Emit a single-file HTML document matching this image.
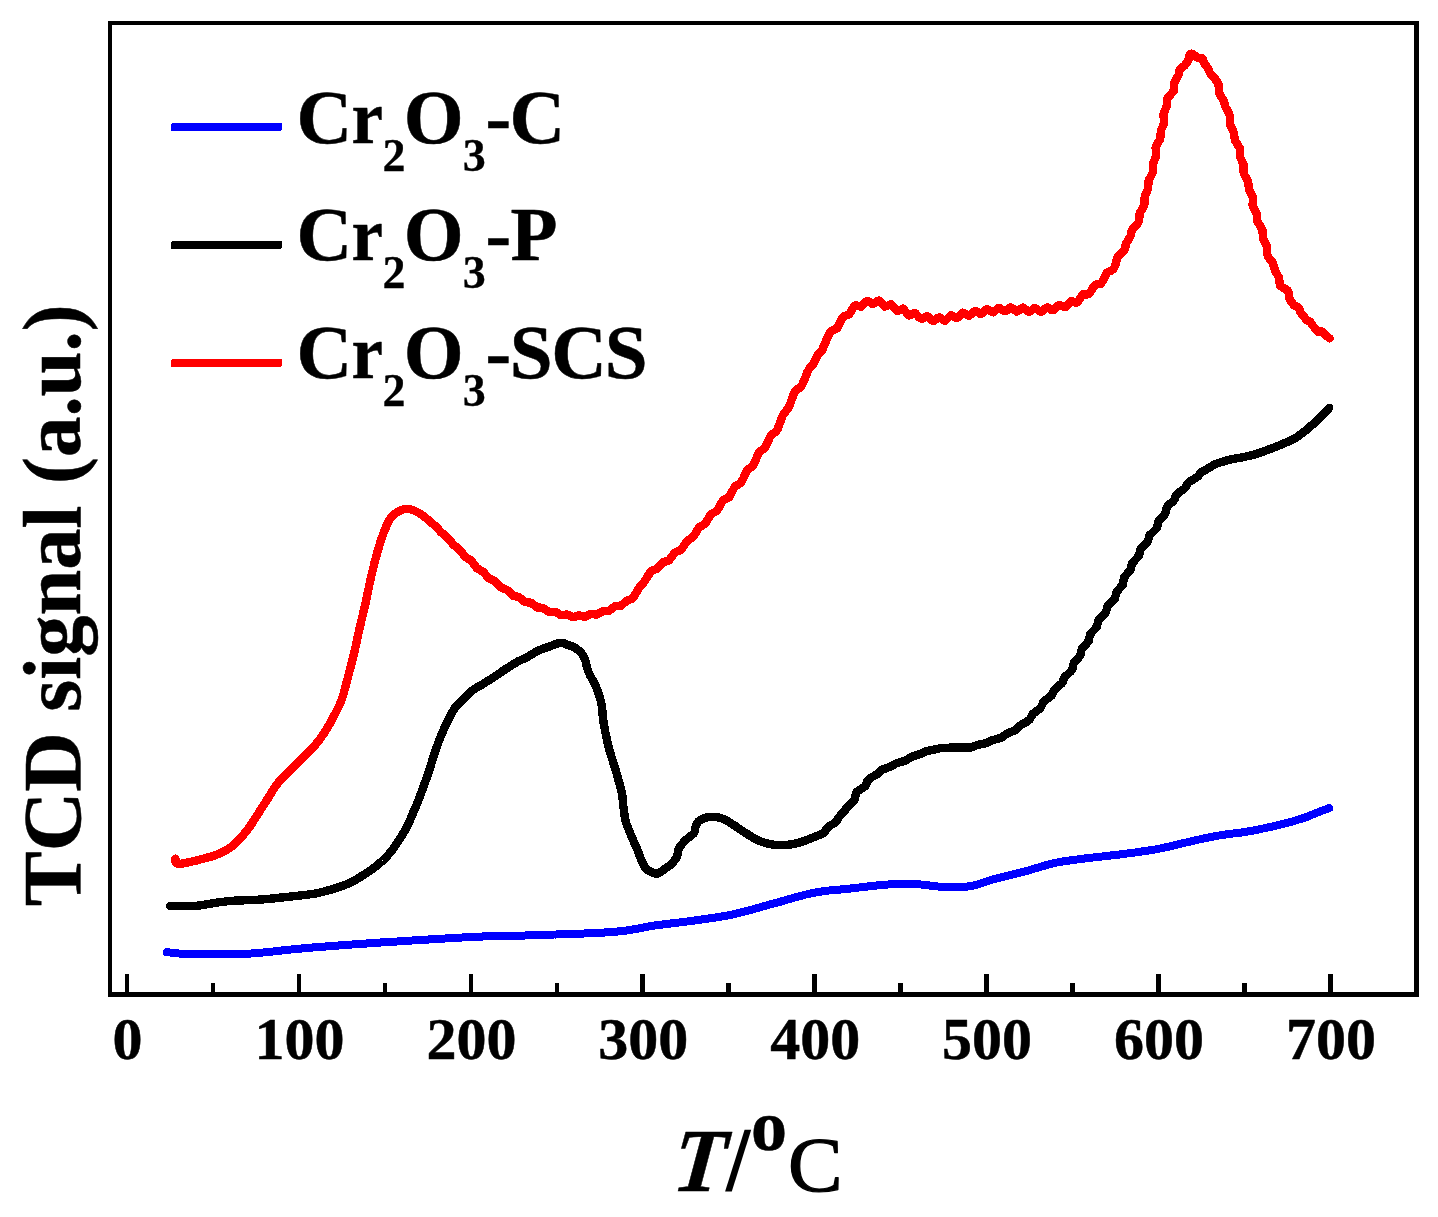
<!DOCTYPE html>
<html lang="en">
<head>
<meta charset="utf-8">
<title>TCD signal vs T - Cr2O3 catalysts</title>
<style>
  html, body { margin: 0; padding: 0; background: #ffffff; }
  body { width: 1438px; height: 1217px; overflow: hidden; }
  svg { display: block; font-family: "Liberation Serif", serif; }
  text { stroke: #000000; stroke-width: 0.5px; stroke-linejoin: round; }
  .curve { fill: none; stroke-width: 8; stroke-linecap: round; stroke-linejoin: round; }
</style>
</head>
<body>
<svg width="1438" height="1217" viewBox="0 0 1438 1217">
  <defs><filter id="gray" x="-20%" y="-20%" width="140%" height="140%" color-interpolation-filters="sRGB"><feColorMatrix type="saturate" values="0"/></filter></defs>
  <rect x="0" y="0" width="1438" height="1217" fill="#ffffff"/>

  <!-- data curves -->
  <polyline class="curve" shape-rendering="crispEdges" stroke="#0000ff" points="166.8,952.2 167.9,952.3 169.5,952.5 171.3,952.6 173.2,952.8 175.0,953.0 176.2,953.1 177.2,953.3 178.2,953.4 179.5,953.6 181.4,953.7 184.0,953.8 185.0,953.8 186.1,953.8 187.3,953.9 188.6,953.9 189.9,953.9 191.3,953.9 192.7,953.9 194.2,954.0 195.7,954.0 197.3,954.0 198.9,954.0 200.6,954.0 202.2,954.0 203.9,954.0 205.7,954.0 207.4,954.0 209.1,954.0 210.9,954.0 212.6,954.0 214.0,954.0 215.4,954.0 216.8,954.0 218.2,954.0 219.6,954.0 221.0,954.1 222.5,954.1 223.9,954.1 225.4,954.1 226.9,954.1 228.4,954.1 230.0,954.1 231.5,954.1 233.1,954.1 234.7,954.1 236.3,954.1 237.9,954.1 239.6,954.0 241.2,954.0 242.9,953.9 244.7,953.9 246.4,953.8 248.2,953.7 250.0,953.6 251.3,953.5 252.7,953.4 254.1,953.3 255.5,953.2 256.9,953.1 258.4,953.0 259.9,952.8 261.4,952.7 262.9,952.5 264.4,952.4 265.9,952.2 267.5,952.1 269.0,951.9 270.6,951.7 272.2,951.6 273.7,951.4 275.3,951.2 276.9,951.0 278.5,950.9 280.1,950.7 281.7,950.5 283.2,950.3 284.8,950.2 286.4,950.0 287.9,949.8 289.5,949.6 291.0,949.5 292.6,949.3 294.1,949.2 295.6,949.0 297.1,948.9 298.6,948.7 300.0,948.6 301.6,948.5 303.1,948.3 304.7,948.2 306.3,948.0 307.8,947.9 309.3,947.8 310.8,947.7 312.4,947.5 313.9,947.4 315.4,947.3 316.9,947.2 318.4,947.0 319.8,946.9 321.3,946.8 322.8,946.7 324.3,946.6 325.8,946.5 327.2,946.3 328.7,946.2 330.2,946.1 331.7,946.0 333.1,945.9 334.6,945.8 336.1,945.7 337.6,945.6 339.0,945.4 340.5,945.3 342.0,945.2 343.5,945.1 345.0,945.0 346.5,944.9 348.0,944.8 349.4,944.7 350.9,944.6 352.3,944.5 353.8,944.4 355.2,944.3 356.6,944.2 358.0,944.1 359.4,944.0 360.8,943.9 362.3,943.8 363.7,943.7 365.1,943.6 366.5,943.5 368.0,943.4 369.4,943.3 370.9,943.2 372.4,943.1 373.9,943.0 375.4,942.9 376.9,942.8 378.4,942.7 380.0,942.6 381.6,942.4 383.2,942.3 384.9,942.2 386.6,942.1 388.3,942.0 390.0,941.9 391.3,941.8 392.7,941.7 394.1,941.6 395.5,941.5 397.0,941.5 398.4,941.4 399.9,941.3 401.4,941.2 403.0,941.1 404.5,941.0 406.1,940.9 407.6,940.8 409.2,940.7 410.8,940.6 412.4,940.5 414.0,940.4 415.7,940.3 417.3,940.2 418.9,940.1 420.5,940.0 422.2,939.9 423.8,939.8 425.4,939.7 427.0,939.6 428.6,939.5 430.2,939.4 431.8,939.3 433.3,939.2 434.9,939.1 436.4,939.0 437.9,938.9 439.4,938.8 440.9,938.8 442.3,938.7 443.7,938.6 445.1,938.5 446.5,938.4 447.8,938.3 449.1,938.3 450.4,938.2 452.3,938.1 454.1,938.0 455.9,937.9 457.6,937.8 459.3,937.7 460.9,937.6 462.5,937.5 464.0,937.4 465.5,937.3 467.0,937.3 468.4,937.2 469.9,937.1 471.3,937.0 472.7,937.0 474.1,936.9 475.4,936.8 476.8,936.8 478.2,936.7 479.6,936.6 481.0,936.6 482.5,936.5 483.9,936.4 485.4,936.4 486.9,936.3 488.4,936.3 490.0,936.2 491.5,936.1 492.9,936.1 494.3,936.1 495.7,936.0 497.0,936.0 498.4,936.0 499.7,935.9 501.1,935.9 502.4,935.9 503.7,935.9 505.1,935.8 506.4,935.8 507.8,935.8 509.2,935.8 510.6,935.8 512.0,935.7 513.5,935.7 515.0,935.7 516.6,935.7 518.2,935.6 519.9,935.6 521.6,935.5 523.4,935.5 525.2,935.5 527.2,935.4 529.2,935.3 531.2,935.3 533.4,935.2 534.6,935.2 535.8,935.1 537.1,935.1 538.4,935.0 539.7,935.0 541.0,934.9 542.4,934.9 543.8,934.9 545.3,934.8 546.8,934.8 548.3,934.7 549.8,934.7 551.3,934.6 552.9,934.6 554.5,934.5 556.0,934.5 557.7,934.4 559.3,934.4 560.9,934.3 562.6,934.3 564.2,934.2 565.9,934.2 567.6,934.1 569.2,934.1 570.9,934.0 572.6,933.9 574.3,933.9 576.0,933.8 577.7,933.8 579.3,933.7 581.0,933.6 582.7,933.6 584.3,933.5 586.0,933.4 587.6,933.4 589.2,933.3 590.9,933.2 592.4,933.1 594.0,933.1 595.6,933.0 597.1,932.9 598.6,932.8 600.1,932.8 601.6,932.7 603.1,932.6 604.5,932.5 605.9,932.4 607.2,932.4 608.5,932.3 609.8,932.2 611.1,932.1 612.3,932.0 613.5,931.9 615.6,931.7 617.6,931.5 619.5,931.3 621.4,931.1 623.2,930.9 624.9,930.7 626.6,930.5 628.2,930.3 629.8,930.0 631.3,929.8 632.8,929.5 634.2,929.3 635.6,929.0 637.0,928.8 638.4,928.5 639.7,928.3 641.0,928.0 642.3,927.8 643.6,927.5 644.9,927.3 646.2,927.0 647.5,926.8 648.8,926.5 650.1,926.3 651.4,926.1 652.7,925.8 654.1,925.6 655.5,925.4 656.9,925.2 658.5,925.0 660.1,924.8 661.7,924.6 663.3,924.3 664.9,924.1 666.4,924.0 668.0,923.8 669.6,923.6 671.2,923.4 672.7,923.2 674.3,923.0 675.8,922.8 677.4,922.7 678.9,922.5 680.4,922.3 682.0,922.1 683.5,921.9 685.0,921.8 686.5,921.6 688.0,921.4 689.6,921.2 691.1,921.0 692.5,920.8 694.0,920.6 695.5,920.4 697.0,920.2 698.6,920.0 700.2,919.7 701.7,919.5 703.3,919.3 704.8,919.1 706.3,918.9 707.9,918.7 709.4,918.4 710.9,918.2 712.4,918.0 713.9,917.8 715.4,917.6 716.9,917.3 718.3,917.1 719.8,916.8 721.3,916.6 722.9,916.3 724.4,916.1 725.9,915.8 727.4,915.5 729.0,915.2 730.5,914.9 732.1,914.5 733.7,914.2 735.1,913.9 736.6,913.6 738.0,913.2 739.4,912.9 740.9,912.5 742.4,912.1 743.8,911.8 745.3,911.4 746.8,911.0 748.3,910.6 749.8,910.2 751.2,909.8 752.7,909.4 754.2,908.9 755.7,908.5 757.2,908.1 758.7,907.7 760.2,907.2 761.7,906.8 763.2,906.4 764.7,906.0 766.2,905.5 767.7,905.1 769.2,904.7 770.7,904.3 772.2,903.9 773.7,903.5 775.2,903.1 776.7,902.7 778.2,902.3 779.7,901.9 781.2,901.4 782.7,901.0 784.2,900.6 785.7,900.1 787.2,899.7 788.7,899.3 790.2,898.8 791.7,898.4 793.2,898.0 794.7,897.5 796.2,897.1 797.7,896.7 799.2,896.3 800.7,895.9 802.2,895.5 803.6,895.1 805.1,894.7 806.6,894.4 808.0,894.0 809.5,893.7 810.9,893.4 812.4,893.1 813.8,892.8 815.4,892.5 817.0,892.2 818.5,892.0 820.1,891.7 821.6,891.5 823.1,891.3 824.7,891.1 826.2,890.9 827.7,890.7 829.2,890.5 830.7,890.4 832.1,890.2 833.6,890.1 835.1,890.0 836.6,889.8 838.1,889.7 839.6,889.6 841.2,889.4 842.7,889.3 844.2,889.1 845.8,889.0 847.3,888.8 848.9,888.7 850.5,888.5 852.0,888.3 853.5,888.2 855.0,888.0 856.6,887.8 858.1,887.6 859.7,887.4 861.3,887.2 862.9,887.1 864.5,886.9 866.1,886.7 867.7,886.5 869.4,886.3 871.0,886.1 872.6,885.9 874.2,885.8 875.8,885.6 877.3,885.4 878.9,885.3 880.4,885.1 882.0,885.0 883.5,884.8 885.0,884.7 886.4,884.6 887.8,884.5 889.2,884.4 890.6,884.3 892.3,884.2 894.1,884.1 895.8,884.1 897.4,884.0 899.1,884.0 900.7,884.0 902.3,884.0 903.9,884.0 905.4,884.0 906.9,884.0 908.4,884.0 909.9,884.1 911.3,884.1 912.7,884.2 914.1,884.2 915.5,884.3 916.8,884.3 918.1,884.4 919.4,884.4 920.6,884.5 922.5,884.6 924.3,884.8 925.8,884.9 927.3,885.1 928.7,885.4 930.0,885.6 931.4,885.8 932.7,886.0 934.2,886.2 935.8,886.4 937.5,886.5 939.4,886.6 940.7,886.7 942.1,886.7 943.5,886.8 945.0,886.8 946.5,886.9 948.0,886.9 949.6,887.0 951.2,887.0 952.9,887.0 954.5,887.1 956.2,887.1 957.8,887.0 959.5,887.0 961.1,887.0 962.8,886.9 964.4,886.8 966.0,886.7 967.5,886.5 969.0,886.3 970.6,886.1 972.1,885.8 973.6,885.5 975.1,885.1 976.5,884.7 978.0,884.3 979.5,883.9 980.9,883.4 982.4,882.9 983.8,882.5 985.2,882.0 986.7,881.5 988.2,881.0 989.6,880.5 991.1,880.0 992.6,879.6 994.2,879.1 995.7,878.7 997.1,878.3 998.5,878.0 1000.0,877.6 1001.4,877.2 1002.9,876.9 1004.3,876.5 1005.8,876.1 1007.3,875.8 1008.8,875.4 1010.3,875.0 1011.8,874.7 1013.3,874.3 1014.8,873.9 1016.3,873.6 1017.8,873.2 1019.2,872.8 1020.7,872.5 1022.2,872.1 1023.7,871.7 1025.2,871.3 1026.7,870.9 1028.2,870.5 1029.7,870.1 1031.2,869.6 1032.7,869.2 1034.2,868.7 1035.7,868.3 1037.2,867.8 1038.7,867.4 1040.2,866.9 1041.7,866.5 1043.2,866.1 1044.7,865.6 1046.1,865.2 1047.6,864.8 1049.1,864.4 1050.5,864.0 1052.0,863.7 1053.4,863.3 1054.8,863.0 1056.5,862.6 1058.1,862.3 1059.7,862.0 1061.4,861.7 1063.0,861.4 1064.6,861.2 1066.2,860.9 1067.8,860.7 1069.4,860.5 1071.0,860.3 1072.5,860.1 1074.0,859.9 1075.5,859.7 1077.0,859.5 1078.5,859.3 1080.0,859.1 1081.4,858.9 1083.1,858.7 1084.7,858.5 1086.3,858.3 1087.8,858.1 1089.3,857.9 1090.8,857.7 1092.3,857.6 1093.8,857.4 1095.2,857.3 1096.7,857.1 1098.2,856.9 1099.8,856.8 1101.4,856.6 1103.0,856.4 1104.5,856.2 1105.9,856.1 1107.4,855.9 1108.9,855.7 1110.4,855.5 1111.9,855.4 1113.5,855.2 1115.0,855.0 1116.6,854.8 1118.2,854.7 1119.8,854.5 1121.4,854.3 1123.0,854.1 1124.7,853.9 1126.4,853.6 1128.1,853.4 1129.5,853.2 1130.9,853.0 1132.3,852.8 1133.7,852.6 1135.2,852.5 1136.7,852.3 1138.1,852.1 1139.6,851.9 1141.1,851.6 1142.6,851.4 1144.2,851.2 1145.7,851.0 1147.2,850.8 1148.8,850.5 1150.3,850.3 1151.9,850.0 1153.4,849.8 1155.0,849.5 1156.5,849.2 1158.1,848.9 1159.5,848.6 1161.0,848.3 1162.5,848.0 1163.9,847.7 1165.4,847.4 1166.9,847.0 1168.5,846.7 1170.0,846.3 1171.5,846.0 1173.0,845.6 1174.6,845.2 1176.1,844.9 1177.6,844.5 1179.1,844.1 1180.6,843.8 1182.1,843.4 1183.6,843.0 1185.0,842.7 1186.5,842.4 1187.9,842.0 1189.3,841.7 1190.7,841.4 1192.4,841.0 1194.0,840.7 1195.5,840.3 1197.1,840.0 1198.6,839.6 1200.1,839.3 1201.6,838.9 1203.1,838.6 1204.6,838.3 1206.1,838.0 1207.6,837.7 1209.0,837.4 1210.5,837.0 1212.0,836.7 1213.5,836.5 1215.1,836.2 1216.6,835.9 1218.2,835.6 1219.6,835.4 1221.1,835.1 1222.6,834.9 1224.1,834.7 1225.5,834.5 1227.0,834.3 1228.5,834.1 1230.1,833.9 1231.6,833.7 1233.1,833.5 1234.6,833.3 1236.1,833.2 1237.7,833.0 1239.2,832.8 1240.7,832.6 1242.2,832.3 1243.8,832.1 1245.3,831.9 1246.8,831.7 1248.3,831.4 1249.8,831.1 1251.3,830.9 1252.9,830.6 1254.4,830.3 1255.9,830.0 1257.5,829.7 1259.0,829.4 1260.5,829.1 1262.1,828.7 1263.6,828.4 1265.1,828.1 1266.7,827.8 1268.2,827.4 1269.7,827.1 1271.2,826.8 1272.6,826.4 1274.1,826.1 1275.5,825.8 1276.9,825.4 1278.3,825.1 1279.9,824.7 1281.5,824.3 1283.1,823.9 1284.7,823.5 1286.3,823.1 1287.9,822.6 1289.4,822.2 1291.0,821.8 1292.5,821.4 1294.0,820.9 1295.4,820.5 1296.8,820.1 1298.2,819.7 1299.5,819.3 1300.8,818.9 1302.1,818.5 1303.3,818.1 1305.2,817.5 1307.0,816.8 1308.7,816.2 1310.3,815.5 1311.7,814.9 1313.2,814.3 1314.5,813.7 1315.8,813.2 1317.1,812.6 1318.4,812.1 1320.3,811.4 1322.1,810.7 1323.9,810.0 1325.5,809.4 1327.0,808.9 1328.2,808.4 1329.1,808.1"/>
  <polyline class="curve" shape-rendering="crispEdges" stroke="#000000" style="stroke-width:8.4" points="170.2,905.9 171.0,905.9 172.0,905.9 173.1,905.9 174.4,906.0 175.7,906.0 177.2,906.0 178.7,906.1 180.3,906.1 182.0,906.1 183.7,906.2 185.5,906.2 187.2,906.2 189.0,906.1 190.8,906.1 192.6,906.0 194.3,905.9 196.0,905.8 197.4,905.7 198.9,905.5 200.3,905.3 201.8,905.1 203.3,904.9 204.9,904.7 206.4,904.4 207.9,904.2 209.5,903.9 211.1,903.6 212.6,903.4 214.2,903.1 215.8,902.8 217.4,902.6 219.0,902.3 220.6,902.1 222.2,901.9 223.8,901.7 225.4,901.5 227.0,901.3 228.5,901.2 230.0,901.0 231.5,900.9 233.1,900.8 234.6,900.7 236.2,900.6 237.8,900.6 239.5,900.5 241.1,900.4 242.7,900.3 244.3,900.3 245.8,900.2 247.4,900.2 249.0,900.1 250.5,900.1 252.0,900.0 253.4,899.9 254.8,899.9 256.2,899.8 257.5,899.7 258.8,899.7 260.0,899.6 262.1,899.5 264.0,899.3 265.7,899.2 267.3,899.0 268.8,898.9 270.3,898.7 271.7,898.6 273.1,898.4 274.4,898.3 275.8,898.1 277.3,898.0 278.8,897.8 280.4,897.6 281.9,897.5 283.5,897.3 285.0,897.2 286.6,897.0 288.1,896.8 289.7,896.7 291.3,896.5 292.8,896.3 294.4,896.2 295.9,896.0 297.5,895.8 299.1,895.6 300.6,895.4 302.2,895.3 303.8,895.1 305.3,894.9 306.9,894.7 308.5,894.5 310.0,894.3 311.6,894.1 313.2,893.9 314.7,893.6 316.3,893.3 317.9,893.0 319.5,892.6 321.1,892.2 322.7,891.8 324.3,891.4 325.9,891.0 327.5,890.6 329.1,890.1 330.7,889.7 332.2,889.2 333.7,888.7 335.1,888.3 336.8,887.8 338.3,887.3 339.9,886.8 341.4,886.3 342.8,885.7 344.3,885.2 345.7,884.6 347.2,884.0 348.6,883.4 350.1,882.7 351.5,882.0 352.8,881.3 354.2,880.6 355.6,879.8 357.0,879.0 358.4,878.2 359.7,877.3 361.1,876.5 362.4,875.6 363.8,874.8 365.1,873.9 366.4,873.0 367.7,872.2 369.0,871.3 370.3,870.4 371.6,869.5 372.9,868.6 374.1,867.7 375.3,866.8 376.6,865.8 377.7,864.9 378.9,863.9 380.1,862.8 381.4,861.7 382.6,860.6 383.7,859.5 384.9,858.4 386.0,857.3 387.1,856.1 388.1,855.0 389.2,853.8 390.2,852.6 391.2,851.4 392.1,850.2 393.0,848.9 393.9,847.7 394.8,846.4 395.6,845.2 396.5,843.9 397.3,842.6 398.1,841.4 398.9,840.1 399.8,838.7 400.7,837.3 401.6,836.0 402.4,834.6 403.3,833.2 404.1,831.9 404.9,830.5 405.7,829.0 406.5,827.6 407.2,826.3 407.8,824.9 408.5,823.6 409.1,822.2 409.7,820.9 410.3,819.5 410.9,818.1 411.5,816.7 412.1,815.2 412.7,813.8 413.3,812.3 414.0,810.9 414.6,809.4 415.3,807.8 415.9,806.3 416.6,804.8 417.2,803.2 417.8,801.7 418.4,800.3 419.0,798.8 419.6,797.2 420.2,795.7 420.7,794.2 421.3,792.7 421.8,791.1 422.4,789.6 422.9,788.1 423.4,786.6 424.0,785.0 424.5,783.6 425.1,782.1 425.6,780.7 426.1,779.2 426.7,777.8 427.2,776.3 427.8,774.8 428.3,773.2 428.9,771.6 429.4,770.0 429.9,768.6 430.3,767.2 430.7,765.7 431.2,764.2 431.6,762.7 432.1,761.2 432.5,759.6 433.0,758.1 433.5,756.6 433.9,755.0 434.4,753.6 434.9,752.1 435.4,750.5 436.0,749.0 436.5,747.4 437.1,745.9 437.7,744.3 438.2,742.8 438.8,741.3 439.4,739.8 440.0,738.3 440.6,736.9 441.2,735.4 441.8,733.9 442.4,732.5 443.1,731.1 443.7,729.6 444.3,728.2 445.0,726.8 445.6,725.4 446.3,724.0 446.9,722.7 447.6,721.4 448.2,720.1 449.0,718.6 449.7,717.1 450.5,715.6 451.2,714.1 451.9,712.7 452.7,711.4 453.5,710.0 454.3,708.8 455.1,707.6 456.2,706.2 457.4,704.9 458.6,703.8 459.8,702.6 461.0,701.6 462.2,700.5 463.4,699.3 464.6,698.1 465.7,696.9 466.9,695.6 468.0,694.4 469.2,693.2 470.5,692.0 471.8,690.9 473.1,690.0 474.4,689.1 475.8,688.2 477.2,687.4 478.6,686.5 480.1,685.7 481.5,684.9 482.9,684.0 484.3,683.1 485.7,682.3 487.1,681.4 488.4,680.5 489.8,679.7 491.2,678.8 492.6,677.9 494.0,677.0 495.2,676.2 496.5,675.3 497.7,674.5 499.0,673.6 500.2,672.8 501.5,671.9 502.7,671.1 504.0,670.2 505.2,669.4 506.6,668.5 508.0,667.6 509.4,666.7 510.8,665.8 512.1,664.9 513.5,664.0 514.9,663.2 516.3,662.4 517.7,661.6 519.1,660.9 520.5,660.3 521.8,659.6 523.2,659.0 524.6,658.3 526.0,657.6 527.4,656.9 528.8,656.1 530.2,655.3 531.6,654.5 533.0,653.7 534.4,652.8 535.8,652.0 537.2,651.3 538.6,650.6 540.2,649.9 541.8,649.2 543.4,648.6 545.0,648.0 546.6,647.5 548.1,646.9 549.7,646.4 551.3,645.8 552.9,645.2 554.5,644.6 556.1,644.0 557.6,643.5 559.1,643.2 560.5,643.0 562.3,643.1 563.9,643.4 565.4,643.9 566.9,644.6 568.5,645.2 570.1,645.8 571.8,646.3 573.5,647.0 575.1,647.8 576.7,648.9 577.8,649.8 579.0,650.8 580.1,651.9 581.3,653.2 582.3,654.5 583.3,655.9 584.2,657.5 584.8,658.8 585.3,660.2 585.7,661.7 586.1,663.3 586.4,664.9 586.8,666.6 587.3,668.3 587.8,670.0 588.4,671.7 589.0,673.0 589.6,674.3 590.3,675.7 591.0,677.1 591.7,678.5 592.5,679.9 593.3,681.3 594.0,682.7 594.8,684.2 595.5,685.6 596.1,687.0 596.7,688.4 597.3,689.9 597.9,691.5 598.4,693.0 598.9,694.5 599.4,696.1 599.8,697.6 600.3,699.2 600.7,700.7 601.0,702.2 601.4,703.6 601.7,705.1 602.0,706.8 602.2,708.3 602.3,709.8 602.4,711.3 602.5,712.8 602.6,714.4 602.7,716.0 602.9,717.9 603.2,720.0 603.4,721.3 603.6,722.6 603.9,724.1 604.1,725.5 604.4,727.1 604.7,728.6 605.0,730.2 605.3,731.9 605.6,733.5 605.9,735.2 606.3,736.8 606.6,738.5 607.0,740.2 607.3,741.8 607.7,743.4 608.1,745.0 608.5,746.5 608.9,748.0 609.3,749.5 609.7,751.0 610.2,752.5 610.6,754.0 611.1,755.5 611.5,757.0 612.0,758.5 612.5,760.0 613.0,761.5 613.4,762.9 613.9,764.4 614.3,765.9 614.8,767.3 615.2,768.7 615.6,770.1 616.1,771.7 616.5,773.2 617.0,774.8 617.4,776.4 617.9,777.9 618.3,779.4 618.7,781.0 619.2,782.4 619.6,783.9 620.0,785.4 620.3,786.8 620.7,788.1 621.0,789.5 621.3,790.8 621.6,792.0 622.0,793.9 622.3,795.7 622.5,797.4 622.6,799.0 622.8,800.5 622.9,802.0 623.0,803.6 623.2,805.1 623.4,806.7 623.6,808.2 623.8,809.7 624.0,811.2 624.2,812.7 624.4,814.2 624.6,815.7 624.9,817.2 625.2,818.7 625.5,820.2 625.9,821.7 626.3,823.2 626.8,824.7 627.4,826.3 628.0,827.8 628.6,829.3 629.2,830.8 629.9,832.3 630.5,833.8 631.1,835.3 631.7,836.7 632.4,838.3 633.0,839.8 633.7,841.3 634.3,842.9 635.0,844.3 635.7,845.8 636.3,847.3 636.9,848.7 637.5,850.1 638.1,851.7 638.8,853.3 639.3,854.8 639.9,856.4 640.5,857.9 641.0,859.3 641.6,860.6 642.1,861.8 642.9,863.5 643.6,865.0 644.3,866.3 645.0,867.4 645.9,868.5 647.2,869.7 648.7,870.7 650.2,871.5 651.7,872.2 653.1,872.8 654.6,873.3 656.1,873.6 657.6,873.5 658.9,873.0 660.2,872.3 661.5,871.4 662.9,870.3 664.3,869.3 665.5,868.4 666.8,867.5 668.2,866.6 669.5,865.6 670.7,864.5 671.8,863.5 673.0,862.2 674.1,861.0 675.1,859.6 676.0,858.3 676.8,856.8 677.4,855.2 677.8,853.4 678.1,851.6 678.4,849.9 678.9,848.4 679.7,846.9 680.5,845.7 681.5,844.6 682.6,843.4 683.6,842.3 684.8,841.1 686.0,839.9 687.3,838.7 688.5,837.6 689.7,836.6 691.0,835.7 692.3,834.7 693.4,833.7 694.3,832.6 694.9,831.2 695.2,829.7 695.3,828.0 695.6,826.5 696.0,825.1 696.8,823.6 697.8,822.2 698.9,821.0 700.2,820.0 701.7,819.1 703.3,818.5 705.0,817.9 706.8,817.5 708.2,817.2 709.7,817.0 711.2,816.9 712.8,816.9 714.3,816.9 715.8,817.0 717.3,817.2 718.8,817.5 720.3,817.9 721.9,818.4 723.1,818.9 724.3,819.4 725.5,820.0 726.8,820.7 728.2,821.5 730.0,822.6 731.0,823.2 732.1,824.0 733.3,824.8 734.6,825.6 735.9,826.5 737.2,827.4 738.6,828.3 739.9,829.2 741.3,830.1 742.6,831.0 743.8,831.8 745.0,832.6 746.5,833.6 748.0,834.5 749.4,835.4 750.8,836.3 752.1,837.1 753.5,838.0 754.9,838.7 756.2,839.4 757.6,840.1 759.2,840.8 760.8,841.4 762.5,842.0 764.1,842.5 765.7,843.0 767.2,843.4 768.7,843.8 770.1,844.1 772.0,844.5 773.7,844.8 775.3,845.0 777.0,845.1 778.8,845.1 780.3,845.1 781.8,845.1 783.5,845.1 785.1,845.0 786.8,844.9 788.5,844.7 790.1,844.5 791.7,844.3 793.3,844.0 794.9,843.7 796.6,843.3 798.2,842.9 799.8,842.5 801.4,842.0 802.8,841.5 804.2,841.0 805.6,840.5 807.0,840.0 808.4,839.4 809.8,838.8 811.2,838.2 812.6,837.6 814.1,837.0 815.6,836.4 817.1,835.8 818.7,835.2 820.3,834.6 821.8,833.9 823.0,833.3 823.9,832.6 825.1,831.4 825.8,830.2 826.3,828.9 827.4,827.7 828.8,826.4 830.1,825.5 831.7,824.7 833.4,823.8 834.6,823.0 835.6,822.1 836.5,821.1 837.1,820.1 837.7,818.8 838.8,817.3 840.2,815.8 841.6,814.2 843.0,812.7 844.6,811.3 845.2,810.2 845.8,809.1 846.6,808.1 847.3,807.1 848.0,806.1 849.5,805.0 851.0,803.8 852.3,802.5 853.6,801.1 854.7,799.6 855.2,798.0 855.3,796.5 855.5,795.1 855.9,793.8 856.3,792.6 857.2,791.5 858.8,790.5 860.4,789.5 862.0,788.5 863.6,787.4 865.2,786.3 865.8,785.1 866.3,783.8 866.8,782.6 867.3,781.3 867.9,780.0 869.5,778.8 871.2,777.6 872.8,776.6 874.5,775.7 876.2,774.8 877.3,773.9 878.1,773.1 878.9,772.2 879.7,771.5 880.5,770.7 881.8,769.9 883.7,769.1 885.6,768.4 887.5,767.7 889.4,767.0 891.3,766.4 892.2,765.7 893.2,765.1 894.2,764.5 895.2,763.9 896.4,763.3 898.5,762.7 900.7,762.1 902.9,761.4 904.7,760.8 906.5,760.2 907.4,759.6 908.3,758.9 909.2,758.3 910.1,757.6 911.0,757.0 912.6,756.4 914.5,755.8 916.6,755.2 918.7,754.5 920.8,753.9 922.3,753.3 923.3,752.8 924.4,752.2 925.4,751.7 926.5,751.2 928.2,750.7 930.3,750.3 932.4,749.9 934.4,749.5 936.5,749.2 938.0,748.8 939.0,748.5 940.1,748.3 941.2,748.1 942.2,748.0 943.4,747.9 945.3,747.8 947.3,747.7 949.4,747.7 951.6,747.6 953.9,747.6 954.8,747.6 955.9,747.6 957.0,747.6 958.2,747.6 959.4,747.6 961.6,747.6 963.8,747.7 966.0,747.6 968.1,747.6 970.0,747.5 971.0,747.4 972.5,747.1 973.7,746.6 974.7,746.1 975.8,745.6 977.7,745.0 979.8,744.5 982.0,744.0 984.1,743.6 986.2,743.2 987.3,742.7 988.5,742.2 989.7,741.6 990.5,741.1 991.4,740.6 993.3,740.1 995.2,739.5 997.1,739.0 999.1,738.3 1001.0,737.7 1002.3,737.1 1003.2,736.4 1004.1,735.7 1005.0,735.0 1005.9,734.2 1007.4,733.4 1009.3,732.7 1011.2,731.9 1013.1,731.1 1014.9,730.3 1016.4,729.5 1017.2,728.7 1018.1,727.8 1018.8,727.0 1019.6,726.2 1020.3,725.4 1021.8,724.5 1023.5,723.6 1025.3,722.6 1026.8,721.6 1028.4,720.6 1029.6,719.5 1030.3,718.4 1030.9,717.3 1031.5,716.1 1032.1,715.0 1032.9,713.8 1034.5,712.6 1036.0,711.5 1037.5,710.4 1038.9,709.3 1040.4,708.2 1041.1,707.0 1041.6,705.9 1042.2,704.7 1042.7,703.6 1043.2,702.4 1044.1,701.3 1045.6,700.2 1047.0,699.1 1048.5,698.0 1050.0,696.9 1051.4,695.8 1052.1,694.7 1052.6,693.6 1053.2,692.4 1053.7,691.3 1054.2,690.1 1055.1,688.9 1056.7,687.6 1058.3,686.3 1060.0,684.9 1061.6,683.5 1062.6,682.2 1063.1,680.9 1063.5,679.7 1064.0,678.6 1064.3,677.6 1065.1,676.3 1066.1,675.6 1067.0,675.0 1068.3,673.7 1070.8,671.3 1071.6,670.4 1072.3,669.5 1072.5,668.4 1072.7,667.3 1073.0,666.1 1073.3,664.9 1073.6,663.6 1074.2,662.2 1075.5,660.8 1076.8,659.4 1078.2,657.9 1079.6,656.4 1080.5,655.0 1080.8,653.5 1081.1,652.0 1081.4,650.6 1081.7,649.2 1082.5,647.8 1083.8,646.4 1085.0,645.1 1086.3,643.8 1087.5,642.4 1088.7,641.1 1088.9,639.8 1089.2,638.4 1089.5,637.1 1089.8,635.8 1090.0,634.5 1091.0,633.2 1092.2,631.9 1093.4,630.6 1094.7,629.3 1095.9,628.0 1096.9,626.7 1097.2,625.3 1097.5,624.0 1097.9,622.7 1098.2,621.4 1098.5,620.1 1099.6,618.8 1101.0,617.4 1102.4,616.1 1103.7,614.7 1105.2,613.4 1105.9,612.0 1106.3,610.6 1106.7,609.3 1107.1,607.9 1107.4,606.5 1108.5,605.2 1109.9,603.9 1111.3,602.5 1112.6,601.2 1113.9,599.9 1114.8,598.7 1115.2,597.4 1115.5,596.2 1115.8,595.0 1116.1,593.4 1116.6,591.9 1118.0,590.3 1119.3,588.8 1120.6,587.3 1121.9,585.9 1122.9,584.5 1123.1,583.1 1123.3,581.7 1123.5,580.4 1123.7,579.0 1123.9,577.7 1124.8,576.5 1125.9,575.2 1127.3,573.7 1128.6,572.2 1129.9,570.8 1130.7,569.4 1130.9,568.1 1131.2,566.8 1131.5,565.5 1131.8,564.3 1132.2,562.9 1133.5,561.6 1134.9,560.2 1136.1,558.9 1137.4,557.5 1138.7,556.2 1139.2,554.8 1139.5,553.4 1139.9,552.1 1140.2,550.7 1140.5,549.3 1141.7,547.9 1143.0,546.6 1144.4,545.2 1145.7,543.9 1147.0,542.6 1147.8,541.3 1148.2,540.1 1148.6,538.8 1148.9,537.6 1149.3,536.3 1149.8,535.1 1151.1,533.9 1152.4,532.6 1153.6,531.4 1154.9,530.1 1156.2,528.9 1157.0,527.5 1157.3,526.1 1157.6,524.7 1157.9,523.3 1158.2,521.9 1158.9,520.6 1160.2,519.2 1161.5,517.8 1162.8,516.5 1164.0,515.2 1165.1,513.9 1165.5,512.4 1165.9,510.9 1166.2,509.4 1166.6,508.0 1167.2,506.6 1168.6,505.2 1170.0,503.9 1171.5,502.6 1172.9,501.3 1174.2,499.9 1174.8,498.6 1175.3,497.3 1175.9,496.1 1176.5,494.9 1177.4,493.7 1179.0,492.5 1180.7,491.3 1182.3,490.1 1184.0,488.9 1185.4,487.7 1186.0,486.5 1186.7,485.3 1187.4,484.1 1188.0,483.0 1189.1,481.9 1190.8,480.8 1192.6,479.8 1194.3,478.7 1196.1,477.7 1197.6,476.7 1198.4,475.7 1199.1,474.7 1199.9,473.8 1200.7,472.9 1201.5,471.9 1203.3,471.0 1204.9,470.1 1206.6,469.3 1208.1,468.4 1209.7,467.6 1210.8,466.9 1211.9,466.1 1213.0,465.4 1214.2,464.8 1215.5,464.2 1216.9,463.6 1218.5,463.0 1220.2,462.5 1221.8,462.0 1223.3,461.5 1224.8,461.0 1226.4,460.5 1228.0,460.1 1229.6,459.7 1231.3,459.3 1232.8,459.0 1234.3,458.7 1235.9,458.4 1237.5,458.1 1239.1,457.9 1240.6,457.6 1242.2,457.3 1243.8,457.0 1245.4,456.7 1246.9,456.3 1248.5,456.0 1250.0,455.6 1251.6,455.2 1253.2,454.8 1254.7,454.4 1256.3,453.9 1257.9,453.4 1259.4,452.9 1261.0,452.4 1262.5,451.8 1264.1,451.3 1265.7,450.7 1267.2,450.1 1268.8,449.5 1270.2,449.0 1271.6,448.4 1273.0,447.9 1274.4,447.4 1275.8,446.8 1277.2,446.2 1278.6,445.7 1280.0,445.1 1281.4,444.5 1282.8,443.9 1284.2,443.3 1285.7,442.7 1287.1,442.1 1288.5,441.5 1289.9,440.8 1291.3,440.2 1292.6,439.5 1293.9,438.8 1295.3,438.0 1296.6,437.2 1297.9,436.3 1299.1,435.5 1300.3,434.6 1301.5,433.7 1302.7,432.8 1303.9,431.9 1305.2,430.9 1306.5,429.8 1307.8,428.7 1309.1,427.6 1310.3,426.5 1311.5,425.4 1312.7,424.4 1314.0,423.2 1315.3,422.1 1316.6,420.9 1317.8,419.8 1319.0,418.7 1320.2,417.6 1321.6,416.3 1322.9,414.9 1324.2,413.6 1325.4,412.4 1326.4,411.3 1328.2,409.2 1329.2,407.8"/>
  <polyline class="curve" shape-rendering="crispEdges" stroke="#ff0000" style="stroke-width:8.4" points="175.5,858.6 175.5,859.8 175.4,861.6 176.0,863.2 178.2,864.0 179.2,864.0 180.3,863.9 181.6,863.7 183.1,863.5 184.6,863.2 186.3,862.8 188.0,862.5 189.7,862.1 191.5,861.6 193.3,861.2 195.0,860.8 196.7,860.4 198.4,859.9 199.9,859.6 201.3,859.2 203.1,858.7 204.8,858.3 206.5,857.9 208.1,857.4 209.6,857.0 211.1,856.6 212.6,856.1 214.1,855.6 215.5,855.1 217.0,854.5 218.4,853.9 219.8,853.3 221.3,852.6 222.6,852.0 224.0,851.3 225.4,850.6 226.7,849.9 228.0,849.1 229.3,848.3 230.7,847.3 232.0,846.4 233.3,845.3 234.3,844.4 235.4,843.4 236.5,842.4 237.5,841.3 238.6,840.2 239.6,839.1 240.7,837.9 241.7,836.7 242.8,835.5 243.8,834.3 244.8,833.1 245.7,831.9 246.7,830.7 247.6,829.5 248.6,828.2 249.5,827.0 250.4,825.7 251.3,824.4 252.2,823.0 253.0,821.7 253.8,820.4 254.6,819.1 255.4,817.8 256.2,816.6 257.0,815.4 257.8,814.2 258.5,813.0 259.4,811.6 260.3,810.2 261.1,809.0 261.9,807.7 262.7,806.5 263.5,805.3 264.3,804.0 265.1,802.8 266.0,801.4 266.9,800.0 267.6,798.8 268.4,797.7 269.1,796.4 269.9,795.2 270.6,793.9 271.4,792.6 272.2,791.3 273.0,790.0 273.9,788.7 274.7,787.4 275.6,786.1 276.6,784.8 277.6,783.5 278.5,782.4 279.4,781.3 280.4,780.2 281.4,779.1 282.4,777.9 283.5,776.8 284.5,775.7 285.6,774.6 286.7,773.5 287.8,772.4 288.9,771.3 290.1,770.1 291.2,769.0 292.3,767.9 293.4,766.8 294.4,765.8 295.5,764.7 296.6,763.7 297.7,762.6 298.8,761.6 300.0,760.5 301.1,759.5 302.2,758.4 303.3,757.4 304.4,756.4 305.5,755.3 306.6,754.3 307.7,753.2 308.7,752.2 309.7,751.1 310.7,750.1 311.8,748.9 312.8,747.7 313.9,746.5 314.9,745.3 315.9,744.1 316.8,742.9 317.8,741.8 318.7,740.6 319.6,739.4 320.5,738.2 321.4,737.0 322.2,735.8 323.1,734.6 323.9,733.4 324.8,732.0 325.7,730.6 326.6,729.2 327.4,727.8 328.2,726.4 329.0,725.0 329.8,723.7 330.6,722.3 331.3,720.9 332.0,719.5 332.8,718.1 333.5,716.7 334.2,715.3 335.0,714.0 335.7,712.6 336.4,711.3 337.1,709.9 337.7,708.6 338.4,707.2 339.1,705.8 339.7,704.4 340.3,703.0 340.9,701.5 341.5,700.0 342.0,698.6 342.5,697.1 342.9,695.7 343.4,694.2 343.8,692.8 344.2,691.3 344.6,689.7 345.0,688.2 345.4,686.6 345.9,684.9 346.3,683.3 346.7,681.6 347.2,679.8 347.6,678.5 347.9,677.1 348.3,675.8 348.7,674.4 349.0,672.9 349.4,671.5 349.8,670.0 350.2,668.5 350.6,667.0 351.0,665.5 351.4,664.0 351.8,662.5 352.2,661.0 352.5,659.5 352.9,657.9 353.3,656.5 353.6,655.0 354.0,653.5 354.4,652.0 354.7,650.4 355.1,648.9 355.4,647.3 355.8,645.8 356.1,644.2 356.4,642.7 356.8,641.2 357.1,639.6 357.4,638.1 357.8,636.6 358.1,635.0 358.4,633.5 358.8,631.9 359.1,630.4 359.5,628.8 359.8,627.3 360.1,625.8 360.5,624.4 360.8,622.9 361.2,621.4 361.5,619.9 361.9,618.4 362.2,617.0 362.6,615.5 363.0,614.0 363.3,612.5 363.7,611.0 364.0,609.6 364.4,608.1 364.7,606.7 365.0,605.2 365.4,603.8 365.7,602.4 366.0,601.0 366.3,599.4 366.7,597.9 367.0,596.4 367.3,594.9 367.6,593.4 367.9,591.9 368.2,590.5 368.5,589.0 368.8,587.5 369.1,586.1 369.4,584.6 369.7,583.2 370.0,581.7 370.3,580.2 370.7,578.8 371.0,577.3 371.3,575.8 371.7,574.3 372.0,572.8 372.4,571.3 372.8,569.8 373.1,568.4 373.5,566.9 373.9,565.4 374.2,563.9 374.6,562.4 375.0,560.9 375.4,559.4 375.8,558.0 376.2,556.5 376.6,555.0 377.0,553.6 377.4,552.1 377.9,550.5 378.3,548.9 378.8,547.4 379.3,545.8 379.7,544.2 380.2,542.7 380.7,541.2 381.2,539.6 381.7,538.2 382.2,536.7 382.7,535.3 383.2,533.9 383.7,532.6 384.2,531.3 384.9,529.6 385.6,528.0 386.2,526.4 386.9,524.9 387.6,523.4 388.3,522.0 389.1,520.7 389.8,519.4 390.7,518.2 391.5,517.1 392.5,516.0 393.6,514.9 394.8,513.9 396.1,512.9 397.5,512.0 398.8,511.2 400.3,510.5 401.7,509.9 403.1,509.5 404.6,509.2 406.0,509.0 407.4,509.0 408.8,509.1 410.2,509.3 411.7,509.7 413.1,510.2 414.6,510.8 416.1,511.5 417.6,512.3 419.2,513.2 420.8,514.2 421.8,514.9 422.9,515.6 424.0,516.4 425.1,517.3 426.2,518.2 427.3,519.2 428.5,520.2 429.6,521.3 430.8,522.2 431.9,523.2 433.1,524.2 434.3,525.2 435.5,526.3 436.7,527.6 438.0,528.8 439.2,530.2 440.2,531.3 441.3,532.4 442.4,533.3 443.5,534.2 444.6,535.1 445.7,536.0 446.8,536.9 448.0,538.2 449.1,539.5 450.2,540.9 451.4,542.3 452.5,543.7 453.6,544.9 454.8,545.8 455.9,546.6 457.0,547.5 458.1,548.3 459.2,549.2 460.3,550.5 461.4,552.0 462.6,553.4 463.7,554.9 464.8,556.3 466.0,557.2 467.1,558.0 468.2,558.8 469.4,559.5 470.5,560.2 471.6,561.3 472.7,562.7 473.8,564.2 474.9,565.6 475.9,566.9 477.0,568.3 478.0,568.9 479.1,569.5 480.1,570.1 481.4,570.8 482.6,571.4 483.9,572.7 485.1,574.1 486.3,575.4 487.5,576.8 488.7,578.1 489.8,578.9 491.0,579.4 492.1,579.9 493.3,580.3 494.4,580.8 495.6,581.7 496.8,583.0 498.1,584.4 499.4,585.8 500.6,587.1 501.9,587.9 503.2,588.4 504.5,588.9 505.7,589.4 507.0,589.9 508.3,591.2 509.6,592.4 510.8,593.7 512.1,594.9 513.4,595.9 514.8,596.2 516.2,596.5 517.6,596.8 519.0,597.1 520.4,598.2 521.7,599.4 523.1,600.5 524.5,601.6 525.9,602.1 527.3,602.3 528.7,602.4 530.1,602.6 531.5,603.1 532.9,604.2 534.3,605.3 535.7,606.3 537.1,607.4 538.5,607.5 539.8,607.6 541.2,607.7 542.6,607.8 544.0,608.5 545.4,609.5 546.8,610.5 548.3,611.5 549.9,611.9 551.4,611.9 553.0,611.8 554.6,611.8 556.1,612.4 557.7,613.3 559.2,614.2 560.7,615.1 562.1,615.1 563.5,615.0 565.3,614.7 567.1,614.5 568.8,615.3 570.4,616.1 572.0,616.8 573.6,617.0 575.3,616.5 576.9,616.0 578.6,615.4 580.2,615.6 581.9,616.1 583.5,616.5 585.2,616.7 586.9,615.9 588.5,615.1 590.2,614.3 591.7,614.0 593.2,614.2 594.7,614.4 596.2,614.5 597.6,614.3 599.1,613.4 600.6,612.5 602.1,611.5 603.6,611.0 605.1,611.0 606.6,611.0 608.0,610.9 609.5,610.5 611.0,609.4 612.5,608.2 613.9,607.0 615.4,606.1 616.9,606.0 618.3,605.9 619.7,605.8 621.1,605.6 622.5,604.4 623.9,603.2 625.3,601.9 626.7,600.6 627.9,600.1 629.2,599.8 630.3,599.4 631.6,598.9 632.7,598.2 633.8,596.8 634.8,595.2 635.7,593.6 636.6,591.9 637.6,590.2 638.6,588.4 639.4,587.3 640.2,586.4 641.1,585.5 641.9,584.5 642.7,583.5 643.5,582.6 644.4,581.6 645.2,580.6 646.1,579.0 647.0,577.4 648.0,575.8 649.1,574.1 650.2,572.5 651.3,571.2 652.5,570.6 653.6,570.1 654.8,569.6 655.9,569.2 657.0,568.8 658.4,567.1 659.6,565.7 660.9,564.4 662.1,563.0 663.5,562.0 665.0,561.6 666.8,561.1 667.8,560.7 668.8,560.4 669.9,559.1 671.1,557.6 672.3,556.0 673.5,554.4 674.7,552.8 676.0,552.0 677.3,551.4 678.5,550.9 679.8,550.3 681.1,549.6 682.3,547.9 683.5,546.1 684.5,544.6 685.6,543.0 686.6,541.4 687.7,540.5 688.7,539.8 689.8,539.1 690.8,538.5 691.9,537.8 692.9,537.1 693.9,535.6 695.0,533.9 696.0,532.2 697.1,530.5 698.1,528.7 699.2,527.2 700.2,526.6 701.2,526.0 702.3,525.4 703.3,524.8 704.3,524.3 705.2,523.5 706.2,521.9 707.2,520.3 708.2,518.7 709.2,517.0 710.2,515.3 711.3,513.9 712.4,513.3 713.4,512.8 714.6,512.2 715.7,511.6 716.9,510.9 717.8,509.5 718.7,507.9 719.7,506.2 720.7,504.4 721.7,502.6 722.8,500.8 723.8,499.9 724.9,499.4 726.0,498.8 727.0,498.3 728.1,497.8 729.2,497.0 730.3,495.0 731.3,493.1 732.4,491.1 733.4,489.2 734.4,487.3 735.4,486.0 736.3,485.5 737.2,485.0 738.1,484.6 738.9,484.1 740.0,483.5 741.1,482.8 742.1,480.7 743.1,478.8 744.0,476.8 744.8,475.0 745.7,473.2 746.5,471.4 747.3,470.0 748.0,469.5 748.8,468.9 749.6,468.3 750.4,467.8 751.2,467.2 752.0,466.6 752.9,466.0 753.8,464.2 754.6,462.2 755.5,460.2 756.4,458.2 757.2,456.3 758.1,454.3 758.9,452.3 759.8,451.6 760.6,450.9 761.5,450.3 762.3,449.7 763.2,449.0 764.0,448.4 764.9,447.8 765.9,445.9 766.8,443.9 767.7,441.9 768.7,439.8 769.6,437.8 770.6,435.9 771.5,434.6 772.4,434.0 773.3,433.5 774.1,432.9 775.0,432.2 775.8,431.6 776.6,430.8 777.5,429.4 778.2,427.4 779.0,425.5 779.7,423.6 780.4,421.7 781.1,419.8 781.8,417.9 782.6,415.9 783.3,414.4 784.0,413.5 784.8,412.6 785.5,411.8 786.2,410.9 786.8,410.1 787.5,409.2 788.2,408.3 788.9,407.3 789.6,405.5 790.3,403.5 791.0,401.5 791.7,399.6 792.4,397.6 793.1,395.7 793.9,393.8 794.6,392.0 795.5,390.6 796.4,390.0 797.3,389.3 798.3,388.7 799.2,388.2 800.2,387.7 801.1,387.0 802.0,385.0 802.9,383.1 803.8,381.3 804.6,379.5 805.3,377.7 806.1,375.7 806.7,373.7 807.3,372.3 807.9,371.3 808.4,370.3 808.9,369.3 809.4,368.3 809.9,367.4 810.6,366.6 811.3,365.8 812.1,365.1 813.1,364.4 814.1,362.4 815.1,360.4 816.2,358.3 817.3,356.2 818.3,354.2 819.3,352.7 820.2,352.2 821.0,351.5 821.8,350.6 822.4,349.5 823.0,348.3 823.4,347.1 823.9,345.8 824.4,344.7 825.0,343.6 825.8,341.5 826.6,339.5 827.6,337.5 828.6,335.4 829.7,333.3 830.8,331.3 831.9,330.5 832.9,330.1 834.0,329.8 834.9,329.4 836.0,328.9 837.0,328.4 838.0,326.5 838.9,324.6 839.9,322.8 840.9,320.9 841.9,318.8 842.9,317.0 843.9,316.4 844.9,316.0 845.9,315.6 846.9,315.2 848.0,314.9 849.1,314.5 850.2,312.7 851.5,310.6 852.7,308.6 854.0,306.7 855.4,305.3 856.8,305.5 858.3,305.9 859.9,306.5 861.3,306.6 862.8,305.0 864.3,303.3 865.9,301.6 867.5,300.9 869.2,301.8 870.8,302.8 872.4,303.9 873.9,303.6 875.5,302.4 877.1,301.4 878.6,300.6 880.2,301.6 881.7,303.2 883.2,304.9 884.8,306.6 886.4,306.2 887.9,305.6 889.3,304.9 890.8,304.3 892.3,305.7 893.8,307.4 895.3,309.2 896.9,310.9 898.4,310.5 900.0,309.9 901.5,309.3 903.0,308.7 904.5,310.4 906.0,312.1 907.6,313.9 909.1,315.4 910.7,314.8 912.2,314.1 913.7,313.5 915.1,313.0 916.8,314.8 918.5,316.6 920.2,318.3 921.8,318.8 923.4,318.0 925.0,317.1 926.6,316.2 928.2,317.0 929.8,318.5 931.5,320.0 933.1,321.2 934.8,320.1 936.5,318.9 938.1,317.7 939.8,317.6 941.4,318.7 943.0,319.8 944.7,320.8 946.3,319.7 947.9,318.1 949.6,316.4 951.2,315.1 952.9,316.0 954.5,316.9 956.1,317.8 957.8,317.5 959.4,315.9 961.1,314.3 962.8,312.7 964.4,313.3 966.1,314.2 967.7,315.2 969.3,315.7 970.9,314.2 972.5,312.8 974.1,311.4 975.7,311.0 977.3,312.0 979.0,313.1 980.8,314.2 982.3,313.2 983.8,311.8 985.3,310.4 986.9,309.0 988.5,309.8 990.2,310.9 991.8,311.9 993.4,312.3 995.0,310.9 996.6,309.5 998.2,308.2 999.7,308.0 1001.2,309.1 1002.7,310.1 1004.2,311.2 1005.8,311.2 1007.3,309.9 1009.0,308.7 1010.6,307.4 1012.4,308.2 1013.8,309.3 1015.3,310.4 1016.8,311.6 1018.4,310.8 1020.0,309.6 1021.6,308.4 1023.2,307.6 1024.9,308.9 1026.5,310.2 1028.0,311.5 1029.6,311.8 1031.1,310.7 1032.5,309.6 1034.3,308.2 1036.0,308.5 1037.8,309.8 1039.4,311.0 1041.1,312.1 1042.7,310.8 1044.2,309.5 1045.8,308.2 1047.3,307.3 1048.8,308.3 1050.4,309.3 1052.0,310.2 1053.5,310.3 1055.0,308.8 1056.4,307.3 1057.9,305.8 1059.3,304.8 1060.8,305.5 1062.3,306.2 1063.8,306.9 1065.3,307.2 1066.8,305.6 1068.3,303.9 1069.9,302.3 1071.4,301.1 1072.9,301.7 1074.4,302.2 1075.9,302.6 1077.1,302.6 1078.4,300.9 1079.6,299.2 1080.8,297.4 1082.1,295.6 1083.3,294.3 1084.6,294.3 1085.8,294.4 1087.0,294.3 1088.3,294.3 1089.5,293.5 1090.6,291.7 1091.8,289.9 1092.9,288.0 1094.1,286.2 1095.3,284.7 1096.4,284.5 1097.5,284.4 1098.6,284.2 1099.7,284.0 1100.8,283.8 1102.0,282.0 1103.1,280.2 1104.4,278.2 1105.3,276.2 1106.1,274.3 1106.9,272.6 1107.8,272.2 1108.7,271.7 1109.7,271.2 1110.8,270.7 1111.9,270.1 1113.0,269.5 1114.3,267.4 1115.3,265.6 1115.7,263.8 1116.2,262.0 1116.6,260.1 1117.0,258.2 1118.1,256.3 1119.2,254.8 1120.2,254.0 1121.2,253.2 1122.2,252.4 1123.2,251.5 1123.9,250.7 1124.4,249.8 1124.9,249.0 1125.3,247.6 1125.5,245.8 1125.8,243.9 1127.0,242.0 1128.1,240.1 1129.3,238.2 1130.5,236.3 1130.8,234.4 1131.0,232.4 1131.4,231.5 1131.9,230.6 1132.3,229.8 1132.7,228.9 1133.5,228.0 1134.3,227.2 1135.2,226.3 1136.2,225.4 1137.1,224.5 1138.2,222.7 1139.0,220.8 1139.2,218.9 1139.4,217.0 1139.5,215.1 1139.7,213.3 1140.8,211.5 1141.8,209.6 1142.7,207.9 1143.7,206.1 1144.2,204.9 1144.4,203.8 1144.6,202.6 1144.6,201.4 1144.6,200.2 1144.6,198.9 1144.6,197.6 1144.9,196.3 1145.4,195.0 1145.9,193.7 1146.5,192.3 1147.0,191.0 1147.6,189.7 1148.1,188.4 1148.1,187.2 1148.2,186.0 1148.3,184.8 1148.5,183.7 1148.6,182.3 1148.7,180.4 1149.7,178.5 1150.7,176.6 1151.6,174.7 1152.6,172.8 1152.8,171.0 1152.8,169.1 1152.8,167.3 1152.8,165.6 1152.9,163.8 1153.7,162.0 1154.4,160.2 1155.1,158.5 1155.8,156.8 1156.2,155.5 1156.1,154.2 1156.0,152.8 1155.9,151.5 1155.8,150.2 1155.7,148.9 1155.6,147.6 1156.2,146.3 1156.8,145.1 1157.4,143.9 1158.1,142.6 1158.8,141.4 1159.5,140.2 1160.1,139.1 1160.2,137.9 1160.4,136.7 1160.5,135.6 1160.6,134.4 1160.7,132.8 1160.7,131.0 1161.5,129.2 1162.3,127.4 1163.0,125.7 1163.7,124.0 1164.1,122.2 1164.0,120.5 1163.8,118.9 1163.6,117.2 1163.5,115.5 1163.6,113.8 1164.3,112.1 1164.9,110.4 1165.6,108.7 1166.4,107.0 1166.8,105.3 1166.8,103.4 1166.8,101.4 1167.0,100.2 1167.3,99.1 1167.6,98.0 1168.5,96.9 1169.4,95.9 1170.3,94.8 1171.2,93.8 1172.1,92.8 1172.9,91.8 1173.8,90.8 1174.0,89.2 1174.1,87.2 1174.2,85.2 1174.3,83.2 1175.1,81.3 1176.2,79.4 1177.2,77.5 1178.2,75.7 1179.0,73.9 1179.1,72.2 1179.4,70.9 1179.9,69.9 1180.5,69.0 1181.0,68.1 1181.7,67.4 1182.8,66.7 1183.9,66.0 1184.9,65.3 1186.0,63.7 1188.0,60.9 1188.7,58.7 1189.2,56.8 1189.7,55.1 1191.0,53.7 1193.0,54.3 1195.4,56.0 1198.1,58.2 1199.3,58.1 1200.2,58.1 1201.1,58.2 1202.0,58.4 1202.9,58.9 1203.3,60.6 1203.7,62.4 1205.0,64.3 1206.5,66.4 1207.9,68.5 1209.2,70.7 1209.7,72.6 1210.3,73.4 1210.8,74.0 1211.4,74.7 1212.0,75.5 1212.6,76.2 1213.5,77.0 1214.6,78.0 1215.9,80.1 1217.2,82.1 1218.4,84.1 1218.6,86.0 1218.8,88.0 1218.9,90.0 1218.9,92.0 1219.8,93.9 1220.7,95.8 1221.6,97.2 1222.3,98.4 1223.1,99.6 1223.7,100.7 1223.9,101.8 1224.2,102.9 1224.6,104.0 1224.9,105.0 1225.2,106.1 1225.5,107.1 1226.1,108.2 1227.2,110.2 1228.2,112.2 1229.2,114.1 1230.0,116.0 1230.0,117.8 1230.0,119.7 1230.0,121.6 1229.9,123.5 1230.5,125.4 1231.4,127.3 1232.3,129.1 1233.2,130.9 1233.8,132.9 1234.0,134.1 1234.2,135.3 1234.3,136.4 1234.5,137.6 1234.7,138.8 1234.9,139.9 1235.4,141.1 1236.2,142.4 1236.9,143.5 1237.7,144.7 1238.4,145.9 1239.1,147.1 1239.8,148.3 1239.9,149.9 1239.9,151.8 1239.8,153.7 1239.8,155.6 1240.2,157.4 1241.1,159.3 1242.0,161.1 1242.8,163.0 1243.7,164.8 1243.7,166.7 1243.6,168.5 1243.6,170.4 1243.6,172.3 1244.0,174.1 1244.8,175.6 1245.5,176.8 1246.2,178.0 1247.0,179.2 1247.7,180.4 1248.2,181.5 1248.3,182.7 1248.4,183.9 1248.6,185.2 1248.7,186.4 1248.8,187.7 1248.8,188.9 1249.3,190.0 1249.9,191.2 1250.6,192.5 1251.3,194.0 1252.1,195.8 1252.9,197.6 1252.8,199.4 1252.7,201.2 1252.7,203.0 1252.6,204.8 1253.0,206.5 1253.9,208.5 1254.9,210.4 1255.9,212.3 1256.7,214.2 1256.8,216.2 1256.9,218.1 1257.1,219.4 1257.3,220.5 1257.5,221.6 1258.1,222.7 1258.9,223.9 1259.6,225.0 1260.3,226.3 1261.0,227.5 1261.7,228.7 1262.4,230.0 1262.5,231.2 1262.6,232.5 1262.7,233.7 1262.8,234.9 1262.8,236.6 1262.9,238.4 1263.8,240.4 1264.8,242.3 1265.8,244.3 1266.8,246.2 1266.9,248.2 1267.0,250.1 1267.0,252.0 1267.1,253.9 1267.8,255.8 1268.8,257.7 1269.7,258.8 1270.6,260.0 1271.5,261.1 1272.4,262.2 1272.9,263.2 1273.2,264.3 1273.5,265.3 1273.9,266.3 1274.2,267.3 1274.5,268.6 1275.0,270.5 1276.0,272.4 1277.1,274.2 1278.1,276.1 1279.2,277.9 1279.3,279.7 1279.5,281.6 1279.7,283.4 1280.0,285.5 1280.9,286.4 1282.1,287.1 1283.2,287.8 1284.4,288.5 1285.6,289.1 1286.7,289.8 1287.9,290.7 1288.6,292.7 1289.0,294.8 1289.3,296.9 1289.6,299.0 1290.9,301.1 1292.3,303.2 1293.6,304.9 1294.7,305.5 1296.0,306.1 1296.8,306.6 1297.5,307.0 1298.3,307.4 1299.0,307.8 1299.5,309.7 1300.0,311.6 1301.5,313.6 1303.0,315.5 1304.5,317.4 1305.9,319.4 1306.6,319.9 1307.4,320.3 1308.2,320.7 1309.0,321.1 1309.9,321.4 1310.7,322.5 1312.0,324.7 1313.8,326.8 1315.6,328.9 1317.2,330.9 1318.2,332.0 1319.4,331.9 1320.5,331.7 1321.6,331.5 1322.6,332.0 1323.9,333.5 1326.5,335.9 1328.4,337.4 1329.6,338.4"/>

  <!-- frame and ticks -->
  <g stroke="#000000" stroke-width="4.5" fill="none" shape-rendering="crispEdges">
    <rect x="110.0" y="23.0" width="1306.5" height="971.5"/>
    <line x1="127.0" y1="994.5" x2="127.0" y2="973.5"/>
    <line x1="298.9" y1="994.5" x2="298.9" y2="973.5"/>
    <line x1="470.8" y1="994.5" x2="470.8" y2="973.5"/>
    <line x1="642.7" y1="994.5" x2="642.7" y2="973.5"/>
    <line x1="814.6" y1="994.5" x2="814.6" y2="973.5"/>
    <line x1="986.5" y1="994.5" x2="986.5" y2="973.5"/>
    <line x1="1158.4" y1="994.5" x2="1158.4" y2="973.5"/>
    <line x1="1330.3" y1="994.5" x2="1330.3" y2="973.5"/>
    <line x1="212.9" y1="994.5" x2="212.9" y2="982.5"/>
    <line x1="384.9" y1="994.5" x2="384.9" y2="982.5"/>
    <line x1="556.8" y1="994.5" x2="556.8" y2="982.5"/>
    <line x1="728.6" y1="994.5" x2="728.6" y2="982.5"/>
    <line x1="900.6" y1="994.5" x2="900.6" y2="982.5"/>
    <line x1="1072.5" y1="994.5" x2="1072.5" y2="982.5"/>
    <line x1="1244.4" y1="994.5" x2="1244.4" y2="982.5"/>
  </g>

  <!-- x tick labels -->
  <g font-size="60" font-weight="bold" fill="#000000">
    <text x="127.6" y="1059.2" text-anchor="middle">0</text>
    <text x="299.5" y="1059.2" text-anchor="middle">100</text>
    <text x="471.4" y="1059.2" text-anchor="middle">200</text>
    <text x="643.3" y="1059.2" text-anchor="middle">300</text>
    <text x="815.2" y="1059.2" text-anchor="middle">400</text>
    <text x="987.1" y="1059.2" text-anchor="middle">500</text>
    <text x="1159.0" y="1059.2" text-anchor="middle">600</text>
    <text x="1330.9" y="1059.2" text-anchor="middle">700</text>
  </g>

  <!-- legend -->
  <g fill="#000000">
    <rect x="171" y="123" width="111" height="8" rx="2" ry="2" fill="#0000ff" shape-rendering="crispEdges"/><text font-size="77" font-weight="bold"><tspan x="296.4" y="143.2">C</tspan><tspan x="403.8" y="143.2">O</tspan><tspan x="485.6" y="143.2">-</tspan><tspan x="509.6" y="143.2">C</tspan></text><text transform="translate(351.5,143.2) scale(0.92,1)" font-size="77" font-weight="bold">r</text><text transform="translate(382.4,170.7) scale(0.5974)" font-size="77" font-weight="bold" filter="url(#gray)">2</text><text transform="translate(462.8,170.7) scale(0.5974)" font-size="77" font-weight="bold" filter="url(#gray)">3</text>
    <rect x="171" y="241" width="111" height="8" rx="2" ry="2" fill="#000000" shape-rendering="crispEdges"/><text font-size="77" font-weight="bold"><tspan x="296.4" y="260.2">C</tspan><tspan x="403.8" y="260.2">O</tspan><tspan x="485.6" y="260.2">-</tspan><tspan x="510.4" y="260.2">P</tspan></text><text transform="translate(351.5,260.2) scale(0.92,1)" font-size="77" font-weight="bold">r</text><text transform="translate(382.4,287.7) scale(0.5974)" font-size="77" font-weight="bold" filter="url(#gray)">2</text><text transform="translate(462.8,287.7) scale(0.5974)" font-size="77" font-weight="bold" filter="url(#gray)">3</text>
    <rect x="171" y="359" width="111" height="8" rx="2" ry="2" fill="#ff0000" shape-rendering="crispEdges"/><text font-size="77" font-weight="bold"><tspan x="296.4" y="378.2">C</tspan><tspan x="403.8" y="378.2">O</tspan><tspan x="485.6" y="378.2">-</tspan><tspan x="509.8" y="378.2">S</tspan><tspan x="551.2" y="378.2">C</tspan><tspan x="604.8" y="378.2">S</tspan></text><text transform="translate(351.5,378.2) scale(0.92,1)" font-size="77" font-weight="bold">r</text><text transform="translate(382.4,405.7) scale(0.5974)" font-size="77" font-weight="bold" filter="url(#gray)">2</text><text transform="translate(462.8,405.7) scale(0.5974)" font-size="77" font-weight="bold" filter="url(#gray)">3</text>
  </g>

  <!-- y axis title -->
  <text transform="translate(80.4,906.2) rotate(-90)" font-size="82" font-weight="bold" fill="#000000" textLength="400.5" lengthAdjust="spacingAndGlyphs">TCD signal</text>
  <text transform="translate(80.4,483.9) rotate(-90)" font-size="82" font-weight="bold" fill="#000000" textLength="179.5" lengthAdjust="spacingAndGlyphs">(a.u.)</text>

  <!-- x axis title -->
  <g fill="#000000">
    <text transform="translate(671,1190.5) skewX(-5.5) scale(0.96,1)" font-size="90" font-weight="bold" font-style="italic">T</text>
    <polygon points="725.1,1191.5 731.8,1191.5 751.2,1129.7 744.6,1129.7"/>
    <text x="751" y="1150" font-size="72" font-weight="bold">o</text>
    <text transform="translate(788,1190.5) scale(1.05,1)" font-size="78" style="stroke-width:1.2px">C</text>
  </g>
</svg>
</body>
</html>
